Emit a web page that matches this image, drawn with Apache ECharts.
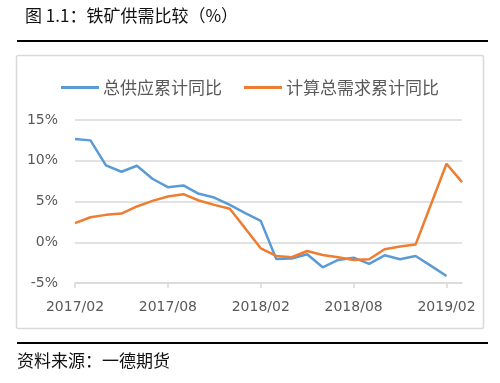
<!DOCTYPE html>
<html>
<head>
<meta charset="utf-8">
<script src="https://cdn.jsdelivr.net/npm/echarts@6/dist/echarts.min.js"></script>
<style>
html,body{margin:0;padding:0;background:#fff;}
#c{width:500px;height:383px;}
</style>
</head>
<body>
<div id="c"></div>
<script>
const categories = ['2017/02','2017/03','2017/04','2017/05','2017/06','2017/07','2017/08','2017/09','2017/10','2017/11','2017/12','2018/01',
  '2018/02','2018/03','2018/04','2018/05','2018/06','2018/07','2018/08','2018/09','2018/10','2018/11','2018/12','2019/01','2019/02','2019/03'];
const supplyName = '总供应累计同比';
const demandName = '计算总需求累计同比';
const supply = [12.66,12.5,9.43,8.65,9.39,7.79,6.76,6.97,5.94,5.49,4.59,3.57,
  2.62,-2.05,-2.0,-1.48,-3.07,-2.17,-1.89,-2.66,-1.6,-2.09,-1.68,-2.9,-4.14,null];
const demand = [2.34,3.07,3.36,3.52,4.39,5.08,5.61,5.9,5.12,4.59,4.1,1.7,
  -0.74,-1.68,-1.84,-1.07,-1.56,-1.84,-2.17,-2.09,-0.86,-0.53,-0.29,4.67,9.63,7.38];
const yTicks = {min:-5, max:15, interval:5};
const titleText = '图 1.1：铁矿供需比较（%）';
const sourceText = '资料来源：一德期货';

const chart = echarts.init(document.getElementById('c'), null, {renderer:'canvas'});
const cjk = '"Noto Sans CJK SC", "Noto Sans", sans-serif';
const num = '"DejaVu Sans", sans-serif';
chart.setOption({
  animation:false,
  backgroundColor:'#fff',
  graphic:[
    {type:'text', left:25, top:7, style:{text:titleText, font:'17px ' + cjk, fill:'#111'}},
    {type:'line', shape:{x1:17,y1:41,x2:488,y2:41}, style:{stroke:'#000', lineWidth:2}},
    {type:'rect', shape:{x:16.5,y:55.5,width:467,height:273, r:2}, style:{fill:'none', stroke:'#d9d9d9', lineWidth:1.5}},
    {type:'line', shape:{x1:17,y1:343,x2:488,y2:343}, style:{stroke:'#000', lineWidth:2}},
    {type:'text', left:17, top:352, style:{text:sourceText, font:'17px ' + cjk, fill:'#111'}}
  ],
  legend:{
    top:74, left:'center',
    itemWidth:38, itemHeight:3, itemGap:22,
    icon:'rect',
    textStyle:{fontFamily:cjk, fontSize:17, color:'#595959', padding:[0,0,0,-1]},
    data:[{name:supplyName, icon:'rect'}, {name:demandName, icon:'rect'}]
  },
  grid:{left:75, right:38, top:120, bottom:100, containLabel:false},
  xAxis:[
    {type:'category', data:categories, boundaryGap:false,
     axisLine:{show:false}, axisTick:{show:false},
     axisLabel:{interval:5, margin:17, fontFamily:num, fontSize:14, color:'#595959'},
     splitLine:{show:false}},
    {type:'category', data:categories, boundaryGap:false, position:'bottom',
     axisLine:{show:true, onZero:true, lineStyle:{color:'#d9d9d9', width:1.5}},
     axisTick:{show:true, interval:5, length:5, lineStyle:{color:'#d9d9d9', width:1.5}},
     axisLabel:{show:false}, splitLine:{show:false}}
  ],
  yAxis:{type:'value', min:yTicks.min, max:yTicks.max, interval:yTicks.interval,
    axisLine:{show:false}, axisTick:{show:false},
    axisLabel:{formatter:'{value}%', margin:17, fontFamily:num, fontSize:14, color:'#595959'},
    splitLine:{lineStyle:{color:'#d9d9d9', width:1.5}}
  },
  series:[
    {name:supplyName, type:'line', data:supply, symbol:'none', smooth:false,
     lineStyle:{color:'#5B9BD5', width:2.5}, itemStyle:{color:'#5B9BD5'}, xAxisIndex:0},
    {name:demandName, type:'line', data:demand, symbol:'none', smooth:false,
     lineStyle:{color:'#ED7D31', width:2.5}, itemStyle:{color:'#ED7D31'}, xAxisIndex:0}
  ]
});
</script>
</body>
</html>
